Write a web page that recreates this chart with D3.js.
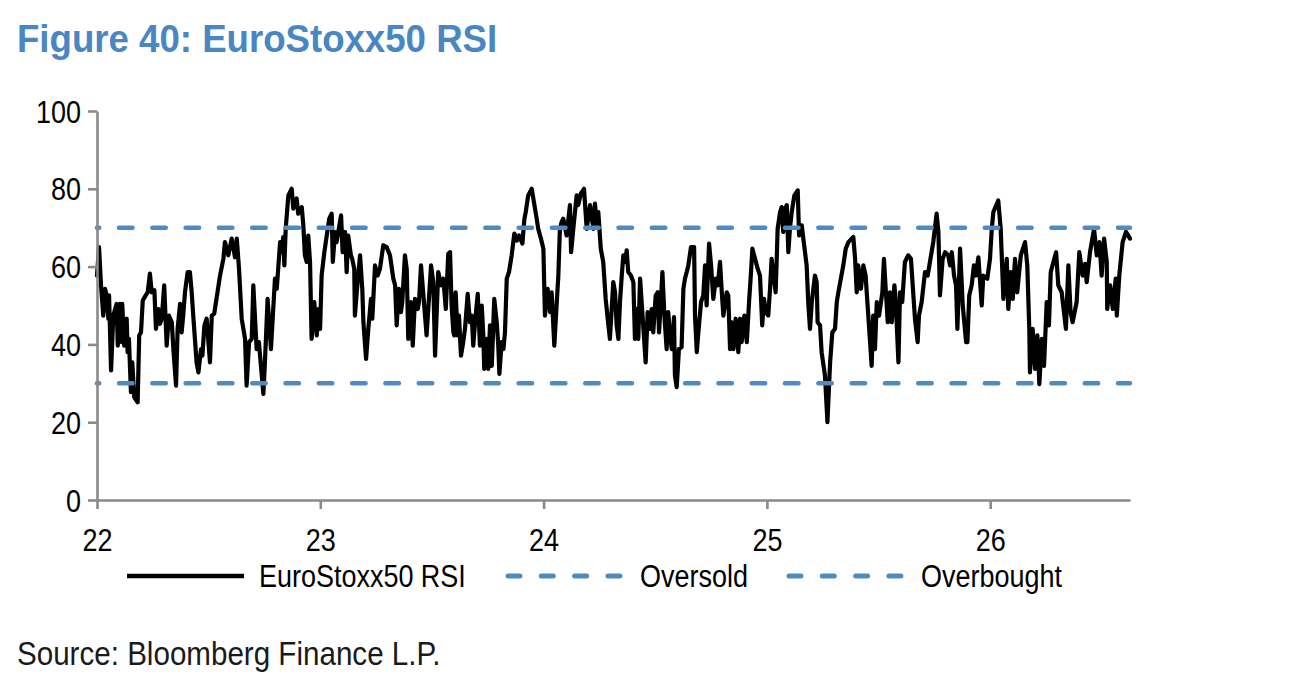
<!DOCTYPE html>
<html><head><meta charset="utf-8">
<script src="https://cdn.jsdelivr.net/npm/d3@7"></script>
<style>html,body{margin:0;padding:0;background:#fff}svg{display:block}</style>
</head><body>
<svg id="chart" width="1310" height="680"></svg>
<script>
// ---- DATA (x = year, 2-digit with fraction; y = 14d RSI) ----
const years = [
22.000,22.009,22.018,22.028,22.036,22.043,22.051,22.054,22.063,22.073,
22.088,22.093,22.103,22.111,22.113,22.122,22.133,22.137,22.143,22.152,
22.158,22.167,22.182,22.189,22.197,22.205,22.218,22.227,22.237,22.245,
22.257,22.264,22.275,22.282,22.290,22.301,22.312,22.322,22.335,22.342,
22.354,22.361,22.372,22.379,22.386,22.394,22.406,22.416,22.424,22.431,
22.446,22.454,22.466,22.472,22.481,22.491,22.506,22.514,22.525,22.551,
22.566,22.573,22.588,22.603,22.618,22.626,22.636,22.648,22.663,22.670,
22.681,22.693,22.700,22.715,22.725,22.745,22.752,
22.764,22.779,22.797,22.805,22.820,22.827,22.834,22.839,22.845,22.857,
22.872,22.879,22.894,22.901,22.917,22.924,22.931,22.939,22.946,22.954,
22.961,22.973,22.984,22.991,22.999,23.006,23.018,23.029,23.040,23.051,
23.056,23.066,23.073,23.093,23.100,23.111,23.118,23.125,23.137,23.143,
23.152,23.155,23.167,23.178,23.188,23.193,23.205,23.215,23.227,23.233,
23.245,23.257,23.267,23.282,23.297,23.312,23.327,23.335,23.342,23.352,
23.361,23.367,23.379,23.387,23.394,23.405,23.414,23.424,23.436,23.442,
23.451,23.476,23.496,23.506,23.514,
23.528,23.541,23.551,23.562,23.573,23.581,23.588,23.596,23.600,23.606,
23.615,23.621,23.630,23.640,23.648,23.660,23.670,23.678,23.685,23.693,
23.705,23.715,23.723,23.730,23.734,23.745,23.752,23.760,23.768,23.779,
23.790,23.797,23.802,23.812,23.820,23.827,23.835,23.845,23.857,23.869,
23.880,23.890,23.905,23.914,23.920,23.931,23.947,23.954,23.969,23.976,
23.988,23.999,24.006,24.018,24.029,24.036,24.048,24.059,24.066,24.073,
24.081,24.088,24.103,24.118,24.123,24.133,24.148,24.155,24.167,24.181,
24.193,24.208,24.223,24.230,24.238,24.245,24.256,24.267,24.278,24.287,
24.297,24.312,
24.320,24.327,24.335,24.342,24.350,24.357,24.365,24.372,24.379,24.391,
24.402,24.409,24.417,24.424,24.432,24.439,24.447,24.457,24.466,24.477,
24.484,24.491,24.502,24.511,24.517,24.524,24.532,24.541,24.551,24.558,
24.566,24.574,24.584,24.588,24.596,24.606,24.618,24.626,24.633,24.641,
24.648,24.660,24.674,24.678,24.686,24.693,24.705,24.715,24.723,24.730,
24.741,24.750,24.760,24.771,24.780,24.790,24.798,24.805,24.820,24.827,
24.835,24.842,24.850,24.860,24.872,24.880,24.887,24.899,24.910,24.920,
24.927,24.935,24.947,24.959,24.969,24.979,24.987,24.995,25.006,25.014,
25.021,25.039,25.044,25.048,25.059,25.066,25.073,
25.081,25.089,25.096,25.103,25.111,25.123,25.138,25.144,25.156,25.163,
25.178,25.185,25.193,25.201,25.215,25.223,25.227,25.238,25.245,25.260,
25.268,25.271,25.283,25.293,25.305,25.313,25.320,25.342,25.353,25.365,
25.387,25.395,25.402,25.409,25.421,25.432,25.442,25.454,25.462,25.469,
25.476,25.484,25.492,25.502,25.511,25.517,25.524,25.541,25.551,25.559,
25.571,25.577,25.589,25.596,25.606,25.618,25.633,25.645,25.663,25.675,
25.681,25.693,25.708,25.720,25.735,25.745,25.760,25.768,25.775,25.787,
25.798,25.812,25.820,
25.828,25.838,25.847,25.853,25.865,25.877,25.892,25.898,25.906,25.917,
25.927,25.936,25.947,25.962,25.969,25.987,25.999,26.007,26.014,26.036,
26.047,26.059,26.074,26.081,26.092,26.101,26.111,26.121,26.137,26.156,
26.166,26.175,26.178,26.190,26.201,26.211,26.220,26.231,26.241,26.253,
26.263,26.271,26.295,26.305,26.320,26.332,26.339,26.350,26.360,26.369,
26.387,26.399,26.414,26.425,26.432,26.447,26.465,26.477,26.489,26.499,
26.510,26.522,26.524,26.537,26.549,26.562,26.567,26.578,26.593,26.608,
26.618,26.626
];
const rsi = [
57.7,65.0,55.2,47.4,54.3,52.6,46.6,52.6,33.3,47.4,
50.4,39.7,50.4,40.6,50.4,39.7,46.6,38.0,41.4,27.7,
35.4,26.4,25.1,42.3,43.1,51.3,52.6,53.4,58.2,53.4,
53.9,44.0,49.1,45.3,46.6,55.2,39.7,47.4,45.7,38.8,
29.4,44.0,50.4,43.1,47.4,53.4,58.6,58.6,53.4,47.4,
35.4,32.8,38.8,37.1,44.9,46.6,35.4,47.4,47.9,57.7,
62.0,66.3,62.9,67.2,62.4,67.2,59.4,46.6,41.4,29.4,
40.6,41.4,55.2,38.8,40.6,27.3,35.4,
51.7,38.8,56.9,54.3,66.3,63.7,67.6,60.3,69.7,78.3,
80.0,74.9,77.5,73.6,75.3,70.6,62.9,61.2,68.0,61.2,
41.4,50.9,42.3,49.1,44.0,57.7,63.7,68.0,72.3,73.6,
61.2,68.9,66.3,73.2,63.7,68.9,58.6,68.0,62.9,62.0,
59.4,47.4,56.0,62.9,54.3,45.7,36.3,44.0,51.7,46.6,
60.3,57.7,59.4,65.5,65.0,62.9,56.9,55.2,44.9,54.3,
48.3,50.9,62.9,59.4,41.4,50.9,39.7,51.7,49.1,50.9,
60.3,42.3,60.3,56.0,37.1,
58.6,55.2,56.9,49.1,63.3,63.7,50.0,43.1,42.3,53.4,
42.3,47.4,37.1,40.6,44.0,53.0,45.7,47.4,39.7,45.7,
53.0,39.7,50.0,42.3,33.7,41.4,33.7,44.9,34.5,51.7,
45.7,39.7,32.4,40.6,38.8,43.1,56.9,58.6,62.9,68.5,
66.7,68.0,65.9,72.3,74.0,78.3,80.0,77.5,72.3,69.7,
67.2,64.6,47.4,54.3,48.3,53.4,39.7,50.9,57.7,69.7,
71.5,72.3,68.0,75.8,63.7,69.7,78.3,75.8,78.8,80.0,
69.7,75.8,69.7,76.2,70.6,74.0,64.6,61.2,51.7,46.6,
41.4,56.0,
53.4,44.9,41.4,50.9,57.7,62.9,61.2,64.2,58.6,57.7,
56.0,41.4,49.1,41.4,56.9,50.9,44.0,35.4,48.3,44.0,
49.1,43.1,52.6,53.4,43.1,50.0,58.6,47.4,38.8,48.3,
42.3,38.8,47.0,32.0,29.0,38.8,39.3,54.3,56.9,58.6,
60.3,65.0,65.0,47.4,38.0,43.1,50.9,52.6,60.3,50.0,
65.9,60.3,51.7,56.9,55.2,61.2,53.4,47.4,53.4,52.6,
38.8,45.7,38.8,46.6,38.0,46.6,40.6,47.4,40.6,50.9,
56.9,64.6,62.0,59.4,57.7,44.9,51.7,48.3,47.4,54.3,
62.0,53.4,62.0,69.7,74.0,75.3,68.9,
74.9,75.8,63.7,69.7,74.0,78.3,79.6,68.0,70.6,67.2,
60.3,50.9,44.0,50.9,57.7,56.0,45.7,44.9,38.0,32.0,
23.4,20.0,35.4,43.1,44.0,50.9,53.4,60.3,64.6,66.3,
67.6,62.0,53.4,60.3,54.3,60.3,57.7,47.4,40.6,34.5,
47.4,38.8,50.9,47.4,50.9,53.4,62.0,45.7,53.4,45.7,
55.2,50.9,35.4,53.4,50.9,61.2,62.9,62.0,46.6,40.6,
47.4,50.9,58.6,57.7,62.9,66.3,73.6,68.9,52.6,62.0,
63.7,62.9,60.3,
63.7,57.7,55.2,44.0,64.6,50.0,40.6,40.6,52.6,55.2,
60.3,57.7,62.4,50.0,57.7,56.9,62.0,69.7,74.0,77.0,
69.7,51.7,62.0,49.1,58.6,51.7,62.0,53.4,62.9,66.3,
60.3,44.0,32.8,44.0,33.7,42.3,29.8,41.4,34.5,50.9,
44.9,58.6,63.7,55.2,53.4,47.4,44.0,60.3,48.3,45.7,
50.9,63.7,57.7,60.7,56.0,63.7,69.7,62.9,66.3,57.7,
67.2,61.2,49.1,55.2,49.1,56.9,47.4,57.7,66.3,68.9,
68.0,67.2
];
const oversoldLevel = 30;
const overboughtLevel = 70;
const xTicks = [22, 23, 24, 25, 26];
const yTicks = [0, 20, 40, 60, 80, 100];
const seriesNames = ["EuroStoxx50 RSI", "Oversold", "Overbought"];
const titleText = "Figure 40: EuroStoxx50 RSI";
const sourceText = "Source: Bloomberg Finance L.P.";

// ---- STYLE / LAYOUT ----
const FONT = "'Liberation Sans', Arial, Helvetica, sans-serif";
const SX = 0.87;                 // horizontal squeeze of the narrow text
const BLUE = "#4f8ac3";
const TITLE_BLUE = "#4a86c1";
const AXIS = "#8a8a8a";
const M = {left: 97, right: 1130, top: 111, bottom: 500};

const svg = d3.select("#chart");
const n = Math.min(years.length, rsi.length);
const data = d3.range(n).map(i => ({t: years[i], v: rsi[i]}));

const x = d3.scaleLinear().domain([22, d3.max(years)]).range([M.left, M.right]);
const y = d3.scaleLinear().domain([0, 100]).range([M.bottom, M.top]);

// title
svg.append("text")
  .attr("transform", "translate(17,52) scale(0.99,1.03)")
  .attr("font-family", FONT).attr("font-weight", "bold").attr("font-size", 37)
  .attr("fill", TITLE_BLUE).text(titleText);

// RSI line
svg.append("path").datum(data)
  .attr("fill", "none").attr("stroke", "#000").attr("stroke-width", 4.2)
  .attr("stroke-linejoin", "round").attr("stroke-linecap", "round")
  .attr("d", d3.line().x(d => x(d.t)).y(d => y(d.v)));

// threshold lines
[oversoldLevel, overboughtLevel].forEach(lv => {
  svg.append("line")
    .attr("x1", x(22)).attr("x2", x(d3.max(years)))
    .attr("y1", y(lv)).attr("y2", y(lv))
    .attr("stroke", BLUE).attr("stroke-width", 4.5)
    .attr("stroke-linecap", "round")
    .attr("stroke-dasharray", "13.5 19.8").attr("stroke-dashoffset", 11.3);
});

// axes
const gx = svg.append("g").attr("transform", `translate(0,${M.bottom})`)
  .call(d3.axisBottom(x).tickValues(xTicks).tickFormat(d3.format("d")).tickSize(9).tickSizeOuter(0));
const gy = svg.append("g").attr("transform", `translate(${M.left},0)`)
  .call(d3.axisLeft(y).tickValues(yTicks).tickFormat(d3.format("d")).tickSize(9).tickSizeOuter(0));
[gx, gy].forEach(g => {
  g.select(".domain").attr("stroke", AXIS).attr("stroke-width", 2.6);
  g.selectAll(".tick line").attr("stroke", AXIS).attr("stroke-width", 2.6);
  g.selectAll(".tick text").attr("font-family", FONT).attr("font-size", 31).attr("fill", "#000");
});
gx.selectAll(".tick text").attr("y", 0).attr("dy", 0)
  .attr("transform", `translate(0,51) scale(${SX},1)`);
gy.selectAll(".tick text").attr("x", 0).attr("dy", "0.36em")
  .attr("transform", `translate(-16,0) scale(${SX},1)`);

// legend
const legendItems = [
  {name: seriesNames[0], x1: 127, x2: 244, tx: 259, dashed: false},
  {name: seriesNames[1], x1: 508, x2: 622, tx: 640, dashed: true},
  {name: seriesNames[2], x1: 789, x2: 903, tx: 921, dashed: true}
];
const lg = svg.append("g");
legendItems.forEach(it => {
  const ln = lg.append("line").attr("x1", it.x1).attr("x2", it.x2)
    .attr("y1", 576).attr("y2", 576).attr("stroke-linecap", it.dashed ? "round" : "butt");
  if (it.dashed) ln.attr("stroke", BLUE).attr("stroke-width", 5).attr("stroke-dasharray", "12 21.3");
  else ln.attr("stroke", "#000").attr("stroke-width", 4.5);
  lg.append("text").attr("transform", `translate(${it.tx},587) scale(${SX},1)`)
    .attr("font-family", FONT).attr("font-size", 31).attr("fill", "#000").text(it.name);
});

// source
svg.append("text").attr("transform", `translate(17,665) scale(${SX},1)`)
  .attr("font-family", FONT).attr("font-size", 34).attr("fill", "#1a1a1a").text(sourceText);
</script>
</body></html>
